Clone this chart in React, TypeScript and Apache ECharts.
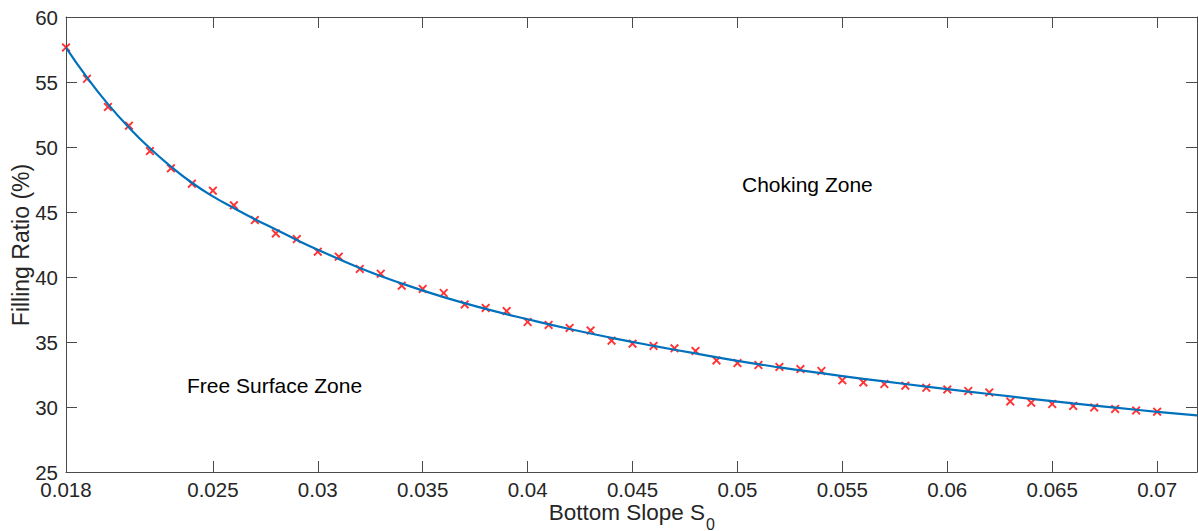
import React, { useEffect, useRef } from "react";
import * as echarts from "echarts";

const slopeTicks = [0.018, 0.025, 0.03, 0.035, 0.04, 0.045, 0.05, 0.055, 0.06, 0.065, 0.07];

const measuredSlope = [
  0.018, 0.019, 0.02, 0.021, 0.022, 0.023, 0.024, 0.025, 0.026, 0.027,
  0.028, 0.029, 0.03, 0.031, 0.032, 0.033, 0.034, 0.035, 0.036, 0.037,
  0.038, 0.039, 0.04, 0.041, 0.042, 0.043, 0.044, 0.045, 0.046, 0.047,
  0.048, 0.049, 0.05, 0.051, 0.052, 0.053, 0.054, 0.055, 0.056, 0.057,
  0.058, 0.059, 0.06, 0.061, 0.062, 0.063, 0.064, 0.065, 0.066, 0.067,
  0.068, 0.069, 0.07,
];
const measuredRatio = [
  57.66, 55.25, 53.08, 51.64, 49.69, 48.36, 47.18, 46.64, 45.51, 44.38,
  43.35, 42.92, 41.95, 41.56, 40.62, 40.25, 39.33, 39.08, 38.77, 37.89,
  37.62, 37.38, 36.54, 36.31, 36.08, 35.89, 35.1, 34.87, 34.7, 34.51,
  34.31, 33.58, 33.38, 33.23, 33.08, 32.92, 32.77, 32.05, 31.89, 31.77,
  31.64, 31.48, 31.35, 31.23, 31.12, 30.43, 30.33, 30.23, 30.08, 29.97,
  29.85, 29.74, 29.64,
];

const fitSlope = [
  0.018, 0.019, 0.02, 0.021, 0.022, 0.023, 0.024, 0.025, 0.026, 0.027,
  0.028, 0.029, 0.03, 0.032, 0.034, 0.036, 0.038, 0.04, 0.042, 0.044,
  0.046, 0.048, 0.05, 0.052, 0.054, 0.056, 0.058, 0.06, 0.062, 0.064,
  0.066, 0.068, 0.07, 0.0719,
];
const fitRatio = [
  57.65, 55.35, 53.3, 51.5, 49.9, 48.5, 47.25, 46.2, 45.3, 44.45,
  43.65, 42.85, 42.1, 40.7, 39.5, 38.45, 37.55, 36.75, 36.0, 35.32,
  34.7, 34.12, 33.55, 33.05, 32.6, 32.17, 31.77, 31.38, 31.0, 30.63,
  30.28, 29.95, 29.63, 29.35,
];

const FONT = "Liberation Sans, Arial, Helvetica, sans-serif";
const TXT = "#262626";
const AXC = "#4a4a4a";

export default function App() {
  const ref = useRef<HTMLDivElement>(null);
  useEffect(() => {
    if (!ref.current) return;
    const chart = echarts.init(ref.current, undefined, { renderer: "svg" });
    const scatterData = measuredSlope.map((x, i) => [x, measuredRatio[i]]);
    const lineData = fitSlope.map((x, i) => [x, fitRatio[i]]);
    const xBase = {
      type: "value" as const,
      min: 0.018,
      max: 0.0719,
      splitLine: { show: false },
      axisLine: { show: true, onZero: false, lineStyle: { color: AXC, width: 1 } },
      axisTick: {
        show: true,
        inside: true,
        length: 11,
        customValues: slopeTicks,
        lineStyle: { color: AXC, width: 1 },
      },
    };
    const yBase = {
      type: "value" as const,
      min: 25,
      max: 60,
      interval: 5,
      splitLine: { show: false },
      axisLine: { show: true, onZero: false, lineStyle: { color: AXC, width: 1 } },
      axisTick: { show: true, inside: true, length: 11, lineStyle: { color: AXC, width: 1 } },
    };
    chart.setOption({
      animation: false,
      backgroundColor: "#ffffff",
      textStyle: { fontFamily: FONT },
      grid: {
        left: 66,
        right: 1,
        top: 17,
        bottom: 59,
        containLabel: false,
        outerBoundsMode: "none",
      },
      xAxis: [
        {
          ...xBase,
          position: "bottom",
          axisLabel: {
            show: true,
            customValues: slopeTicks,
            margin: 9,
            fontSize: 20.5,
            lineHeight: 17,
            color: TXT,
            fontFamily: FONT,
            formatter: (v: number) => String(+v.toFixed(4)),
          },
        },
        { ...xBase, position: "top", axisLabel: { show: false } },
      ],
      yAxis: [
        {
          ...yBase,
          position: "left",
          axisLabel: {
            show: true,
            margin: 8,
            fontSize: 20.5,
            lineHeight: 16,
            color: TXT,
            fontFamily: FONT,
          },
        },
        { ...yBase, position: "right", axisLabel: { show: false } },
      ],
      series: [
        {
          type: "scatter",
          data: scatterData,
          symbol:
            "path://M0,1.5 L1.5,0 L5,3.5 L8.5,0 L10,1.5 L6.5,5 L10,8.5 L8.5,10 L5,6.5 L1.5,10 L0,8.5 L3.5,5 Z",
          symbolSize: 9,
          itemStyle: { color: "#ff0000" },
          z: 2,
        },
        {
          type: "line",
          data: lineData,
          smooth: true,
          showSymbol: false,
          lineStyle: { color: "#0072BD", width: 2.2 },
          z: 3,
        },
      ],
      graphic: [
        {
          type: "text",
          x: 21,
          y: 245,
          rotation: Math.PI / 2,
          style: {
            text: "Filling Ratio (%)",
            fontSize: 23,
            fontFamily: FONT,
            fill: TXT,
            align: "center",
            verticalAlign: "middle",
          },
        },
        {
          type: "text",
          x: 742,
          y: 184,
          style: {
            text: "Choking Zone",
            fontSize: 21,
            fontFamily: FONT,
            fill: "#000000",
            align: "left",
            verticalAlign: "middle",
          },
        },
        {
          type: "text",
          x: 187,
          y: 385,
          style: {
            text: "Free Surface Zone",
            fontSize: 21,
            fontFamily: FONT,
            fill: "#000000",
            align: "left",
            verticalAlign: "middle",
          },
        },
        {
          type: "text",
          x: 705,
          y: 512,
          style: {
            text: "Bottom Slope S",
            fontSize: 22.5,
            fontFamily: FONT,
            fill: TXT,
            align: "right",
            verticalAlign: "middle",
          },
        },
        {
          type: "text",
          x: 706,
          y: 524,
          style: {
            text: "0",
            fontSize: 16,
            fontFamily: FONT,
            fill: TXT,
            align: "left",
            verticalAlign: "middle",
          },
        },
      ],
    });
    return () => chart.dispose();
  }, []);
  return (
    <div
      ref={ref}
      style={{ position: "fixed", left: 0, top: 0, width: 1198, height: 531, background: "#fff" }}
    />
  );
}
